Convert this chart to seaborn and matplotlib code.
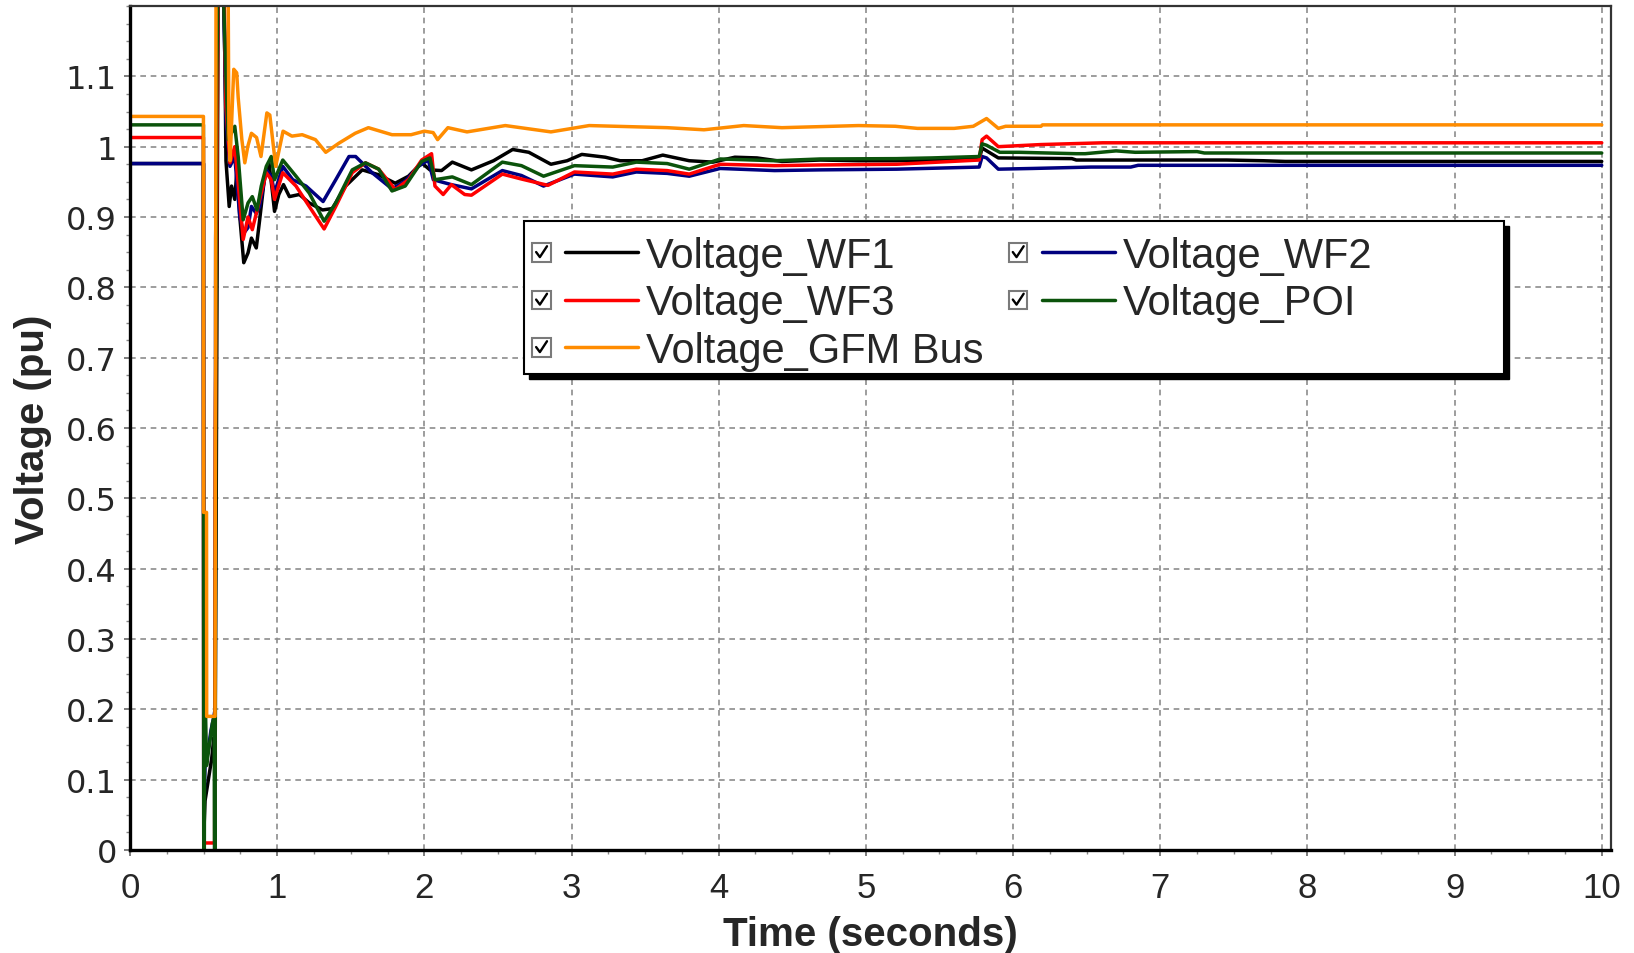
import matplotlib
matplotlib.use("Agg")
import numpy as np
import pandas as pd
import matplotlib.pyplot as plt
import seaborn as sns
from matplotlib.legend_handler import HandlerLine2D
from matplotlib.lines import Line2D
from matplotlib.patches import Rectangle
from matplotlib.ticker import MultipleLocator, FormatStrFormatter

# ---------------- simulation traces: time (s) and voltage (pu) ----------------
t_wf1 = [0.0, 0.499, 0.501, 0.51, 0.525, 0.54, 0.555, 0.57, 0.578, 0.585, 0.60, 0.63,
         0.645, 0.652, 0.674, 0.690, 0.712, 0.728, 0.746, 0.773, 0.802, 0.825, 0.858,
         0.881, 0.915, 0.944, 0.966, 0.982, 1.011, 1.043, 1.083, 1.151, 1.218, 1.308,
         1.375, 1.465, 1.578, 1.690, 1.802, 1.892, 1.982, 2.038, 2.117, 2.19, 2.32,
         2.47, 2.60, 2.71, 2.86, 2.97, 3.07, 3.23, 3.33, 3.48, 3.62, 3.80, 3.96, 4.11,
         4.26, 4.43, 4.69, 4.95, 5.21, 5.47, 5.77, 5.79, 5.90, 6.40, 6.43, 7.45, 7.70,
         7.85, 10.0]
v_wf1 = [0.976, 0.976, 0.02, 0.07, 0.09, 0.11, 0.13, 0.16, 0.10, 0.45, 1.28, 1.28,
         1.12, 0.98, 0.915, 0.944, 0.925, 0.972, 0.900, 0.835, 0.849, 0.870, 0.856,
         0.896, 0.958, 0.977, 0.939, 0.908, 0.932, 0.946, 0.929, 0.932, 0.920, 0.910,
         0.912, 0.944, 0.967, 0.960, 0.948, 0.958, 0.977, 0.967, 0.966, 0.978, 0.967,
         0.980, 0.996, 0.992, 0.975, 0.980, 0.989, 0.985, 0.980, 0.980, 0.988, 0.980,
         0.978, 0.985, 0.984, 0.979, 0.981, 0.980, 0.980, 0.981, 0.982, 0.998, 0.984,
         0.983, 0.981, 0.981, 0.980, 0.979, 0.979]

t_wf2 = [0.0, 0.499, 0.501, 0.51, 0.53, 0.55, 0.57, 0.578, 0.582, 0.60, 0.63, 0.645,
         0.652, 0.679, 0.712, 0.746, 0.773, 0.802, 0.825, 0.858, 0.881, 0.926, 0.960,
         0.982, 1.038, 1.106, 1.196, 1.312, 1.398, 1.488, 1.533, 1.645, 1.780, 1.870,
         1.960, 2.027, 2.061, 2.184, 2.32, 2.53, 2.66, 2.81, 3.02, 3.28, 3.44, 3.65,
         3.80, 4.01, 4.38, 4.69, 5.21, 5.77, 5.79, 5.82, 5.90, 6.13, 6.53, 6.80, 6.85,
         10.0]
v_wf2 = [0.976, 0.976, 0.05, 0.12, 0.14, 0.17, 0.19, 0.20, 0.87, 1.28, 1.28, 1.12,
         1.038, 0.972, 0.986, 0.900, 0.877, 0.885, 0.915, 0.905, 0.915, 0.967, 0.958,
         0.934, 0.972, 0.953, 0.944, 0.922, 0.953, 0.986, 0.986, 0.963, 0.940, 0.951,
         0.972, 0.981, 0.953, 0.946, 0.940, 0.966, 0.959, 0.944, 0.961, 0.957, 0.964,
         0.962, 0.958, 0.969, 0.966, 0.967, 0.968, 0.971, 0.986, 0.984, 0.968, 0.969,
         0.971, 0.971, 0.9735, 0.9735]

t_wf3 = [0.0, 0.499, 0.501, 0.575, 0.58, 0.60, 0.635, 0.645, 0.652, 0.679, 0.712,
         0.735, 0.769, 0.802, 0.831, 0.858, 0.892, 0.926, 0.960, 0.982, 1.038, 1.128,
         1.218, 1.319, 1.398, 1.510, 1.600, 1.690, 1.802, 1.892, 1.982, 2.049, 2.072,
         2.128, 2.184, 2.274, 2.32, 2.53, 2.66, 2.84, 3.02, 3.28, 3.44, 3.65, 3.80, 4.01,
         4.38, 4.69, 5.21, 5.77, 5.79, 5.82, 5.90, 6.19, 6.61, 6.92, 7.07, 10.0]
v_wf3 = [1.013, 1.013, 0.01, 0.01, 0.6, 1.28, 1.28, 1.15, 1.057, 0.977, 1.000,
         0.948, 0.868, 0.900, 0.882, 0.905, 0.934, 0.963, 0.953, 0.925, 0.963, 0.944,
         0.915, 0.883, 0.915, 0.963, 0.977, 0.968, 0.939, 0.953, 0.981, 0.990, 0.944,
         0.932, 0.946, 0.932, 0.931, 0.961, 0.954, 0.945, 0.964, 0.961, 0.968, 0.966,
         0.961, 0.975, 0.973, 0.974, 0.975, 0.981, 1.010, 1.015, 1.000, 1.003, 1.0055,
         1.0055, 1.0055, 1.0055]

t_poi = [0.0, 0.499, 0.500, 0.501, 0.505, 0.508, 0.52, 0.54, 0.56, 0.572, 0.574, 0.578,
         0.582, 0.59, 0.60, 0.625, 0.645, 0.652, 0.667, 0.712, 0.735, 0.769, 0.802,
         0.831, 0.863, 0.892, 0.926, 0.960, 0.982, 1.038, 1.128, 1.218, 1.319, 1.398,
         1.510, 1.600, 1.690, 1.780, 1.870, 1.982, 2.038, 2.072, 2.19, 2.32, 2.53, 2.66,
         2.81, 3.02, 3.28, 3.44, 3.65, 3.80, 4.01, 4.38, 4.69, 5.21, 5.45, 5.77, 5.79,
         5.82, 5.91, 6.04, 6.43, 6.49, 6.70, 6.83, 7.25, 7.30, 10.0]
v_poi = [1.031, 1.031, 0.475, 0.0, 0.0, 0.257, 0.12, 0.15, 0.18, 0.19, 0.0, 0.0,
         0.64, 1.10, 1.28, 1.28, 1.15, 1.10, 1.010, 1.029, 0.986, 0.896, 0.920, 0.929,
         0.910, 0.944, 0.972, 0.986, 0.953, 0.981, 0.958, 0.934, 0.894, 0.920, 0.967,
         0.977, 0.968, 0.937, 0.944, 0.979, 0.984, 0.953, 0.957, 0.946, 0.978, 0.973,
         0.958, 0.973, 0.971, 0.978, 0.976, 0.968, 0.9825, 0.980, 0.9825, 0.983, 0.984,
         0.986, 1.004, 1.002, 0.992, 0.992, 0.990, 0.990, 0.994, 0.992, 0.993, 0.991,
         0.991]

t_gfm = [0.0, 0.499, 0.500, 0.52, 0.521, 0.578, 0.585, 0.665, 0.672, 0.68, 0.705,
         0.725, 0.735, 0.76, 0.78, 0.80, 0.825, 0.86, 0.89, 0.93, 0.95, 0.99, 1.04,
         1.10, 1.17, 1.26, 1.33, 1.42, 1.53, 1.62, 1.78, 1.91, 2.00, 2.06, 2.09, 2.16,
         2.29, 2.55, 2.86, 3.12, 3.65, 3.90, 4.17, 4.43, 4.95, 5.20, 5.35, 5.60, 5.73,
         5.82, 5.90, 5.95, 6.19, 6.20, 10.0]
v_gfm = [1.043, 1.043, 0.48, 0.48, 0.19, 0.19, 1.30, 1.30, 1.02, 0.98, 1.110,
         1.105, 1.07, 1.01, 0.977, 1.000, 1.019, 1.013, 0.986, 1.048, 1.045, 0.972,
         1.022, 1.015, 1.017, 1.010, 0.992, 1.005, 1.019, 1.027, 1.017, 1.017, 1.022,
         1.020, 1.010, 1.027, 1.021, 1.030, 1.021, 1.030, 1.027, 1.024, 1.030, 1.027,
         1.030, 1.029, 1.026, 1.026, 1.029, 1.040, 1.026, 1.029, 1.029, 1.031, 1.031]

signals = ["Voltage_WF1", "Voltage_WF2", "Voltage_WF3", "Voltage_POI", "Voltage_GFM Bus"]
colors = ["#000000", "#00007F", "#FF0000", "#0B530B", "#FF8C00"]
x_ticks = list(range(0, 11))
y_ticks = [0, 0.1, 0.2, 0.3, 0.4, 0.5, 0.6, 0.7, 0.8, 0.9, 1.0, 1.1]

traces = {
    "Voltage_WF1": (t_wf1, v_wf1),
    "Voltage_WF2": (t_wf2, v_wf2),
    "Voltage_WF3": (t_wf3, v_wf3),
    "Voltage_POI": (t_poi, v_poi),
    "Voltage_GFM Bus": (t_gfm, v_gfm),
}
frames = []
for name in signals:
    t, v = traces[name]
    frames.append(pd.DataFrame({"Time": t, "Voltage": v, "Signal": name}))
df = pd.concat(frames, ignore_index=True)

# ---------------- styling ----------------
sns.set_theme(style="white")
plt.rcParams["font.family"] = ["Liberation Sans", "DejaVu Sans"]

W, H = 1634, 954
fig = plt.figure(figsize=(W / 100, H / 100), dpi=100)
ax = fig.add_axes([130 / W, 1 - 851 / H, (1611 - 130) / W, (851 - 7) / H])

sns.lineplot(data=df, x="Time", y="Voltage", hue="Signal", hue_order=signals,
             palette=dict(zip(signals, colors)), sort=False, estimator=None,
             linewidth=2.5, legend=False, ax=ax)

ax.set_xlim(0, 10.063)
ax.set_ylim(0, 1.2)
ax.set_xticks(x_ticks)
ax.set_yticks(y_ticks)
ax.xaxis.set_minor_locator(MultipleLocator(0.25))
ax.yaxis.set_minor_locator(MultipleLocator(0.025))
ax.yaxis.set_major_formatter(FormatStrFormatter("%g"))
ax.xaxis.set_major_formatter(FormatStrFormatter("%g"))

ax.grid(True, which="major", color="#8c8c8c", linestyle=(0, (3.4, 2.8)), linewidth=1.2)
ax.set_axisbelow(True)

for side in ["left", "bottom"]:
    ax.spines[side].set_linewidth(2.4)
    ax.spines[side].set_color("black")
for side in ["top", "right"]:
    ax.spines[side].set_linewidth(1.6)
    ax.spines[side].set_color("#333333")

ax.tick_params(axis="both", which="major", direction="out", length=4.5, width=1.2,
               color="#666666", left=True, bottom=True)
ax.tick_params(axis="both", which="minor", direction="out", length=3, width=1.0,
               color="#888888", left=True, bottom=True)
ax.tick_params(axis="y", which="major", pad=5, labelsize=23)
ax.tick_params(axis="x", which="major", pad=10.5, labelsize=25)
for lab in ax.get_yticklabels():
    lab.set_fontfamily("DejaVu Sans")

ax.set_xlabel("Time (seconds)", fontsize=29, fontweight="bold", va="center")
ax.set_ylabel("Voltage (pu)", fontsize=29, fontweight="bold", va="center")
ax.xaxis.set_label_coords(0.5, -0.099)
ax.yaxis.set_label_coords(-0.0655, 0.5)


# legend entries: a ticked checkbox followed by the line sample
class CheckedLineHandler(HandlerLine2D):
    def create_artists(self, legend, orig_handle, xdescent, ydescent, width,
                       height, fontsize, trans):
        s = 0.45 * fontsize
        x0 = -xdescent
        yc = height / 2 - ydescent
        box = Rectangle((x0, yc - s / 2), s, s, facecolor="white",
                        edgecolor="#7a7a7a", linewidth=1.5, transform=trans)
        tick = Line2D([x0 + 0.22 * s, x0 + 0.42 * s, x0 + 0.80 * s],
                      [yc + 0.02 * s, yc - 0.25 * s, yc + 0.33 * s],
                      color="black", linewidth=1.7, transform=trans)
        gap = 0.35 * fontsize
        line = Line2D([x0 + s + gap, x0 + width], [yc, yc],
                      color=orig_handle.get_color(), linewidth=2.5, transform=trans)
        return [box, tick, line]


handles = {name: Line2D([], [], color=c, linewidth=2.5) for name, c in zip(signals, colors)}
order = ["Voltage_WF1", "Voltage_WF3", "Voltage_GFM Bus", "Voltage_WF2", "Voltage_POI"]

# legend frame with a solid drop shadow
lx0, ly0, lx1, ly1 = 524, 222, 1504, 375
fig.add_artist(Rectangle(((lx0 + 5) / W, 1 - (ly1 + 5) / H), (lx1 - lx0) / W,
                         (ly1 - ly0) / H, transform=fig.transFigure,
                         facecolor="black", edgecolor="black", zorder=3))
fig.add_artist(Rectangle((lx0 / W, 1 - ly1 / H), (lx1 - lx0) / W, (ly1 - ly0) / H,
                         transform=fig.transFigure, facecolor="white",
                         edgecolor="black", linewidth=1.5, zorder=4))

leg = fig.legend([handles[n] for n in order], order, ncol=2, loc="upper left",
                 bbox_to_anchor=(532 / W, 1 - 237 / H), frameon=False,
                 fontsize=30, handlelength=2.54, handletextpad=0.2,
                 columnspacing=0.6, labelspacing=0.18, borderpad=0,
                 borderaxespad=0, handler_map={Line2D: CheckedLineHandler()})
leg.set_zorder(5)

fig.savefig("out.png", dpi=100)
